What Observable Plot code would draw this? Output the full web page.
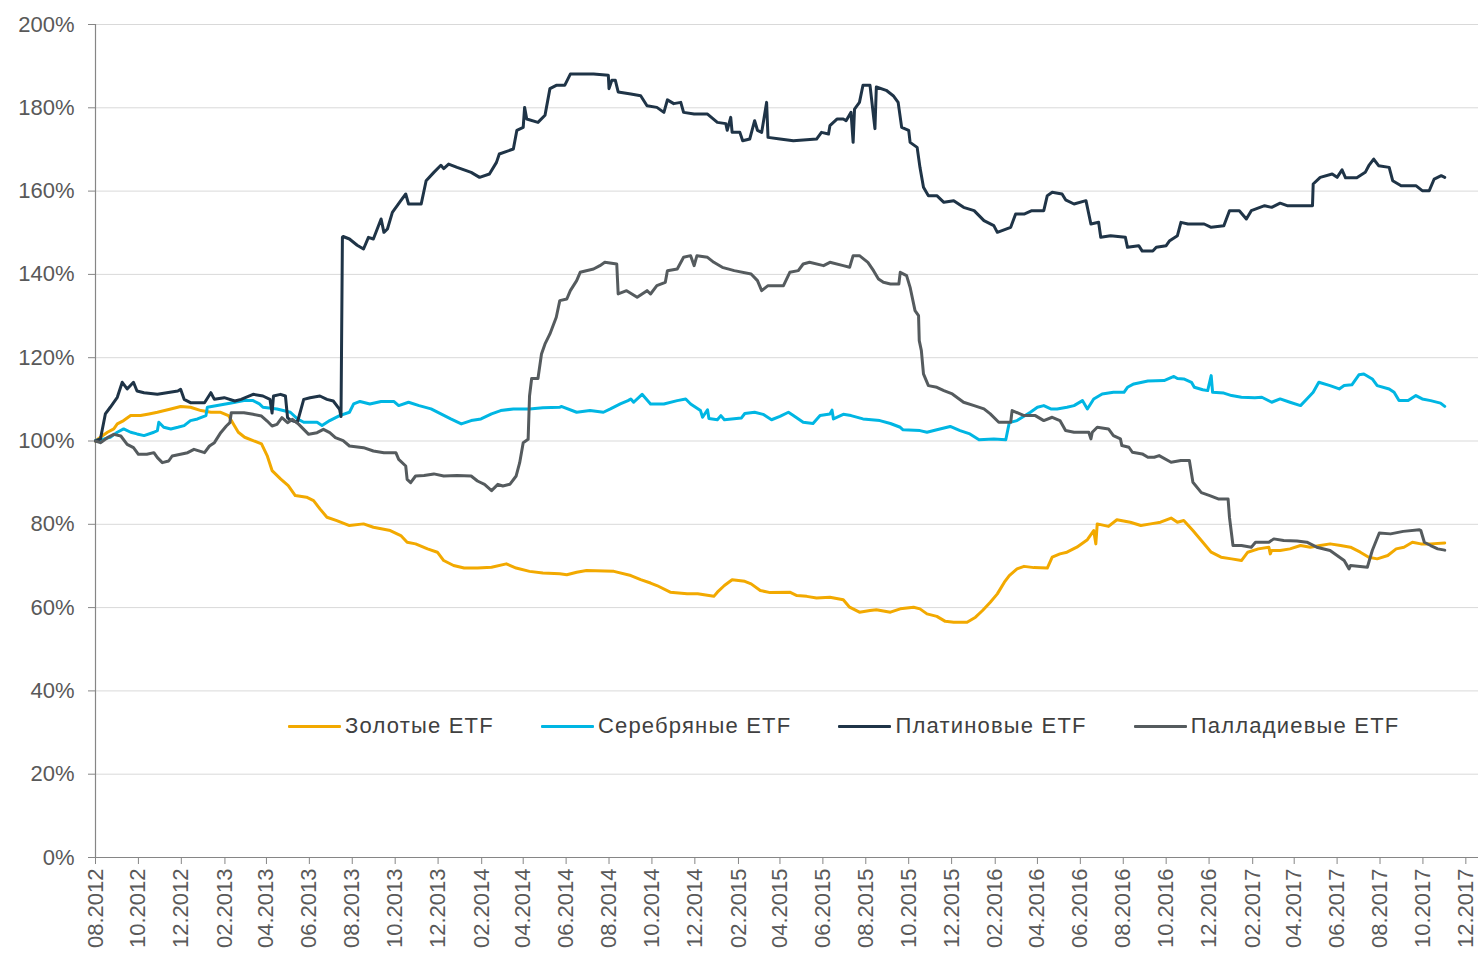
<!DOCTYPE html>
<html>
<head>
<meta charset="utf-8">
<script src="https://cdn.jsdelivr.net/npm/d3@7"></script>
<script src="https://cdn.jsdelivr.net/npm/@observablehq/plot@0.6"></script>
<style>
  html, body { margin: 0; padding: 0; background: #fff; }
  #wrap { position: relative; width: 1479px; height: 961px; font-family: "Liberation Sans", Arial, sans-serif; }
  #legend { position: absolute; top: 713px; left: 288px; display: flex; gap: 47px; align-items: center; font-size: 22px; color: #404040; letter-spacing: 1.2px; }
  #legend .item { display: flex; align-items: center; }
  #legend .sw { display: inline-block; width: 53px; height: 3px; margin-right: 4px; border-radius: 1px; }
</style>
</head>
<body>
<div id="wrap"></div>
<script>
// ---- Data (dates, % of initial value) ----
const seriesNames = ["Золотые ETF", "Серебряные ETF", "Платиновые ETF", "Палладиевые ETF"];
const seriesColors = ["#f2a900", "#00b6e3", "#1f3447", "#555b5e"];

const tickLabels = ["08.2012","10.2012","12.2012","02.2013","04.2013","06.2013","08.2013","10.2013","12.2013",
  "02.2014","04.2014","06.2014","08.2014","10.2014","12.2014","02.2015","04.2015","06.2015","08.2015","10.2015",
  "12.2015","02.2016","04.2016","06.2016","08.2016","10.2016","12.2016","02.2017","04.2017","06.2017","08.2017",
  "10.2017","12.2017"];
const yTicks = [0, 20, 40, 60, 80, 100, 120, 140, 160, 180, 200];

const gold = [
["2012-08-01",100],["2012-08-08",100.9],["2012-08-18",102.1],["2012-08-27",102.9],["2012-09-01",104.1],["2012-09-10",104.9],
["2012-09-20",106.1],["2012-10-04",106.1],["2012-10-16",106.5],["2012-10-28",106.9],["2012-11-16",107.7],["2012-11-30",108.3],
["2012-12-14",108.1],["2012-12-29",107.3],["2013-01-12",106.9],["2013-01-26",106.9],["2013-02-06",106.1],["2013-02-13",104.1],
["2013-02-20",102.1],["2013-03-01",100.9],["2013-03-13",100.1],["2013-03-25",99.3],["2013-04-02",96.5],["2013-04-09",92.9],
["2013-04-21",90.9],["2013-05-02",89.3],["2013-05-12",86.9],["2013-05-28",86.5],["2013-06-07",85.7],["2013-06-16",83.7],
["2013-06-26",81.7],["2013-07-10",80.9],["2013-07-28",79.7],["2013-08-17",80.1],["2013-08-31",79.3],["2013-09-24",78.5],
["2013-10-09",77.3],["2013-10-18",75.7],["2013-10-30",75.3],["2013-11-16",74.1],["2013-11-30",73.3],["2013-12-09",71.3],
["2013-12-23",70.1],["2014-01-07",69.5],["2014-01-26",69.5],["2014-02-15",69.7],["2014-03-08",70.5],["2014-03-22",69.5],
["2014-04-10",68.7],["2014-04-29",68.3],["2014-05-23",68.1],["2014-06-02",67.9],["2014-06-16",68.5],["2014-06-30",68.9],
["2014-08-08",68.7],["2014-09-01",67.7],["2014-09-15",66.7],["2014-09-29",65.9],["2014-10-08",65.3],["2014-10-27",63.7],
["2014-11-20",63.3],["2014-12-05",63.3],["2014-12-28",62.7],["2015-01-02",63.7],["2015-01-12",65.3],["2015-01-23",66.7],
["2015-02-10",66.3],["2015-02-19",65.7],["2015-03-04",64.1],["2015-03-18",63.6],["2015-04-15",63.7],["2015-04-25",62.9],
["2015-05-09",62.7],["2015-05-23",62.3],["2015-06-11",62.5],["2015-06-30",61.9],["2015-07-09",60.1],["2015-07-23",58.9],
["2015-08-07",59.3],["2015-08-16",59.5],["2015-09-05",58.9],["2015-09-19",59.7],["2015-10-08",60.1],["2015-10-17",59.7],
["2015-10-27",58.5],["2015-11-10",57.9],["2015-11-22",56.7],["2015-12-04",56.5],["2015-12-23",56.5],["2016-01-04",57.7],
["2016-01-14",59.3],["2016-01-25",61.3],["2016-02-04",63.3],["2016-02-14",66.1],["2016-02-21",67.7],["2016-03-03",69.3],
["2016-03-13",69.9],["2016-03-27",69.6],["2016-04-15",69.5],["2016-04-22",72.1],["2016-05-03",72.9],["2016-05-13",73.3],
["2016-05-27",74.5],["2016-06-11",76.3],["2016-06-20",78.5],["2016-06-23",75.3],["2016-06-25",80.1],["2016-07-11",79.5],
["2016-07-23",81.1],["2016-08-11",80.5],["2016-08-26",79.7],["2016-09-09",80.1],["2016-09-23",80.5],["2016-10-08",81.5],
["2016-10-17",80.5],["2016-10-26",80.9],["2016-11-08",78.5],["2016-11-20",76.1],["2016-12-04",73.3],["2016-12-18",72.1],
["2017-01-02",71.7],["2017-01-16",71.3],["2017-01-25",73.3],["2017-02-09",74.1],["2017-02-24",74.5],["2017-02-26",72.9],
["2017-02-28",73.7],["2017-03-12",73.7],["2017-03-26",74.1],["2017-04-10",74.9],["2017-04-24",74.5],["2017-05-08",74.9],
["2017-05-22",75.3],["2017-06-06",74.9],["2017-06-20",74.5],["2017-07-04",73.3],["2017-07-16",72.1],["2017-07-28",71.7],
["2017-08-12",72.5],["2017-08-24",74.1],["2017-09-04",74.5],["2017-09-16",75.7],["2017-09-28",75.3],["2017-10-12",75.3],
["2017-11-01",75.5]
];

const silver = [
["2012-08-01",100.1],["2012-08-13",100.5],["2012-08-22",100.9],["2012-09-01",102.1],["2012-09-10",102.9],["2012-09-20",102.1],
["2012-09-29",101.7],["2012-10-09",101.3],["2012-10-23",102.1],["2012-10-28",102.5],["2012-10-30",104.5],["2012-11-06",103.3],
["2012-11-16",102.9],["2012-11-26",103.3],["2012-12-05",103.7],["2012-12-14",104.9],["2012-12-24",105.3],["2013-01-05",106.1],
["2013-01-07",108.1],["2013-01-21",108.5],["2013-02-10",109.1],["2013-02-28",109.7],["2013-03-13",109.7],["2013-03-22",108.9],
["2013-03-27",108.1],["2013-04-16",107.7],["2013-05-05",106.9],["2013-05-15",105.3],["2013-05-24",104.5],["2013-06-12",104.5],
["2013-06-19",103.7],["2013-06-30",104.9],["2013-07-14",106.1],["2013-07-28",106.9],["2013-08-03",108.9],["2013-08-12",109.5],
["2013-08-26",108.9],["2013-09-11",109.5],["2013-09-29",109.5],["2013-10-06",108.5],["2013-10-20",109.3],["2013-11-04",108.5],
["2013-11-21",107.7],["2013-12-05",106.5],["2013-12-19",105.3],["2014-01-03",104.1],["2014-01-17",104.9],["2014-01-31",105.3],
["2014-02-15",106.5],["2014-02-28",107.3],["2014-03-18",107.7],["2014-04-10",107.7],["2014-04-29",108],["2014-05-23",108.1],
["2014-05-25",108.3],["2014-06-16",106.9],["2014-07-05",107.3],["2014-07-24",106.9],["2014-08-03",107.7],["2014-08-17",108.9],
["2014-08-28",109.7],["2014-09-01",110.1],["2014-09-05",109.3],["2014-09-17",111.2],["2014-09-29",108.9],["2014-10-18",108.9],
["2014-11-06",109.7],["2014-11-18",110.1],["2014-11-25",108.9],["2014-12-09",107.3],["2014-12-12",105.7],["2014-12-19",107.5],
["2014-12-21",105.4],["2015-01-02",105.1],["2015-01-07",106.1],["2015-01-12",105.1],["2015-02-05",105.5],["2015-02-10",106.6],
["2015-02-24",106.9],["2015-03-08",106.4],["2015-03-20",105.1],["2015-04-01",105.9],["2015-04-13",106.9],["2015-04-20",106.1],
["2015-05-04",104.5],["2015-05-18",104.2],["2015-05-28",106.1],["2015-06-11",106.5],["2015-06-14",107.4],["2015-06-16",105.3],
["2015-06-30",106.4],["2015-07-11",106.1],["2015-07-28",105.3],["2015-08-21",104.9],["2015-09-05",104.2],["2015-09-19",103.3],
["2015-09-23",102.7],["2015-10-17",102.5],["2015-10-27",102.1],["2015-11-10",102.7],["2015-11-29",103.5],["2015-12-13",102.5],
["2015-12-27",101.7],["2016-01-09",100.3],["2016-01-30",100.5],["2016-02-16",100.3],["2016-02-21",104.4],["2016-03-03",104.9],
["2016-03-22",106.9],["2016-04-01",108.1],["2016-04-10",108.5],["2016-04-20",107.7],["2016-04-29",107.7],["2016-05-13",108.1],
["2016-05-23",108.5],["2016-06-04",109.7],["2016-06-11",107.7],["2016-06-20",110.1],["2016-07-02",111.3],["2016-07-18",111.7],
["2016-08-02",111.7],["2016-08-07",112.9],["2016-08-16",113.7],["2016-09-05",114.4],["2016-09-28",114.5],["2016-10-12",115.5],
["2016-10-17",115],["2016-10-26",114.9],["2016-11-06",114.1],["2016-11-10",112.9],["2016-11-22",112.3],["2016-11-29",112.1],
["2016-12-04",115.7],["2016-12-06",111.7],["2016-12-22",111.5],["2017-01-02",110.9],["2017-01-16",110.5],["2017-02-04",110.4],
["2017-02-14",110.5],["2017-02-28",109.3],["2017-03-12",110.1],["2017-03-26",109.3],["2017-04-10",108.5],["2017-04-19",110.1],
["2017-04-28",111.7],["2017-05-06",114.1],["2017-05-22",113.3],["2017-06-04",112.5],["2017-06-11",113.3],["2017-06-22",113.5],
["2017-07-02",115.9],["2017-07-09",116.1],["2017-07-21",114.9],["2017-07-28",113.3],["2017-08-14",112.5],["2017-08-21",111.7],
["2017-08-28",109.7],["2017-09-10",109.7],["2017-09-21",110.9],["2017-09-30",110.1],["2017-10-12",109.7],["2017-10-26",109.1],
["2017-11-01",108.3]
];

const platinum = [
["2012-08-01",100],["2012-08-08",100.5],["2012-08-15",106.5],["2012-08-22",108.1],["2012-09-01",110.5],["2012-09-08",114.1],
["2012-09-15",112.5],["2012-09-24",114.1],["2012-09-29",112],["2012-10-09",111.6],["2012-10-28",111.2],["2012-11-26",112],
["2012-11-30",112.4],["2012-12-05",110],["2012-12-14",109.2],["2013-01-03",109.2],["2013-01-12",111.6],["2013-01-17",110],
["2013-01-31",110.4],["2013-02-15",109.6],["2013-02-24",110],["2013-03-13",111.2],["2013-03-27",110.8],["2013-04-06",110],
["2013-04-09",106.7],["2013-04-11",110.8],["2013-04-21",111.2],["2013-04-28",110.8],["2013-05-01",105.6],["2013-05-05",105],
["2013-05-15",104.5],["2013-05-24",110],["2013-06-02",110.4],["2013-06-16",110.8],["2013-06-26",110],["2013-07-05",109.6],
["2013-07-14",107.6],["2013-07-16",105.9],["2013-07-18",148.9],["2013-07-19",149.1],["2013-07-28",148.5],["2013-08-08",147],
["2013-08-17",146.1],["2013-08-24",148.9],["2013-08-31",148.5],["2013-09-11",153.3],["2013-09-15",150.1],["2013-09-20",150.9],
["2013-09-27",154.9],["2013-10-09",157.7],["2013-10-16",159.3],["2013-10-20",156.9],["2013-11-07",156.9],["2013-11-14",162.5],
["2013-11-25",164.5],["2013-12-05",166.2],["2013-12-09",165.4],["2013-12-16",166.5],["2013-12-28",165.7],["2014-01-17",164.5],
["2014-01-29",163.3],["2014-02-12",164.1],["2014-02-22",166.9],["2014-02-26",168.9],["2014-03-18",170.1],["2014-03-23",174.6],
["2014-04-01",175.3],["2014-04-03",180.1],["2014-04-06",177.3],["2014-04-22",176.5],["2014-05-02",178.2],["2014-05-09",184.6],
["2014-05-18",185.4],["2014-05-30",185.4],["2014-06-07",188.1],["2014-07-10",188.1],["2014-07-31",187.8],["2014-08-01",184.6],
["2014-08-05",186.6],["2014-08-10",186.6],["2014-08-14",183.8],["2014-09-01",183.3],["2014-09-15",182.9],["2014-09-24",180.5],
["2014-10-08",180.1],["2014-10-18",178.9],["2014-10-23",181.9],["2014-11-01",181],["2014-11-11",181.3],["2014-11-15",178.9],
["2014-11-30",178.5],["2014-12-19",178.5],["2015-01-02",176.5],["2015-01-14",176.2],["2015-01-16",174.6],["2015-01-21",177.7],
["2015-01-23",174.1],["2015-02-03",174.1],["2015-02-07",172.1],["2015-02-17",172.5],["2015-02-24",176.9],["2015-02-28",174.6],
["2015-03-06",174.1],["2015-03-13",181.3],["2015-03-15",172.9],["2015-04-01",172.5],["2015-04-20",172.1],["2015-05-23",172.5],
["2015-05-30",174.1],["2015-06-09",173.7],["2015-06-11",175.7],["2015-06-21",177.3],["2015-06-30",177.3],["2015-07-04",176.9],
["2015-07-11",178.9],["2015-07-14",171.7],["2015-07-16",179.7],["2015-07-23",181.3],["2015-07-28",185.4],["2015-08-07",185.4],
["2015-08-14",175],["2015-08-16",185],["2015-08-30",184.2],["2015-09-09",182.9],["2015-09-16",181.3],["2015-09-21",175.3],
["2015-10-01",174.6],["2015-10-03",171.7],["2015-10-13",170.5],["2015-10-17",165.7],["2015-10-22",160.9],["2015-10-29",158.9],
["2015-11-10",158.9],["2015-11-20",157.3],["2015-12-04",157.7],["2015-12-18",156.1],["2016-01-02",155.3],["2016-01-16",152.9],
["2016-01-30",151.7],["2016-02-04",150.1],["2016-02-23",151.3],["2016-03-01",154.5],["2016-03-13",154.5],["2016-03-24",155.3],
["2016-04-10",155.3],["2016-04-15",158.9],["2016-04-22",159.7],["2016-05-06",159.3],["2016-05-11",157.9],["2016-05-23",156.9],
["2016-06-09",157.7],["2016-06-16",152.1],["2016-06-27",152.5],["2016-06-30",148.9],["2016-07-14",149.3],["2016-08-04",148.9],
["2016-08-07",146.5],["2016-08-23",146.9],["2016-08-28",145.6],["2016-09-12",145.6],["2016-09-17",146.5],["2016-10-01",146.9],
["2016-10-06",148.1],["2016-10-17",149.3],["2016-10-22",152.5],["2016-11-01",152.1],["2016-11-24",152.1],["2016-12-04",151.3],
["2016-12-22",151.7],["2016-12-30",155.3],["2017-01-13",155.3],["2017-01-23",153.3],["2017-01-30",155.3],["2017-02-18",156.5],
["2017-02-28",156.1],["2017-03-12",157.1],["2017-03-22",156.5],["2017-04-05",156.5],["2017-04-27",156.5],["2017-04-28",161.7],
["2017-05-08",163.3],["2017-05-25",164.1],["2017-06-01",163.3],["2017-06-08",165.1],["2017-06-13",163.2],["2017-06-29",163.2],
["2017-07-11",164.5],["2017-07-16",166.1],["2017-07-23",167.7],["2017-07-30",166.1],["2017-08-14",165.7],["2017-08-19",162.5],
["2017-08-31",161.3],["2017-09-21",161.3],["2017-09-30",160.1],["2017-10-10",160.1],["2017-10-17",162.9],["2017-10-27",163.7],
["2017-11-01",163.3]
];

const palladium = [
["2012-08-01",100],["2012-08-08",99.6],["2012-08-18",100.8],["2012-08-27",101.6],["2012-09-06",101.2],["2012-09-15",99.2],
["2012-09-24",98.4],["2012-10-01",96.8],["2012-10-13",96.8],["2012-10-23",97.2],["2012-10-28",96],["2012-11-04",94.8],
["2012-11-13",95.2],["2012-11-18",96.4],["2012-12-10",97.2],["2012-12-19",98],["2013-01-03",97.2],["2013-01-10",98.8],
["2013-01-17",99.6],["2013-01-26",102],["2013-02-03",103.6],["2013-02-08",104.4],["2013-02-10",106.8],["2013-02-28",106.8],
["2013-03-13",106.4],["2013-03-25",106],["2013-04-02",104.8],["2013-04-09",103.6],["2013-04-16",104],["2013-04-23",105.6],
["2013-05-01",104.4],["2013-05-08",105.2],["2013-05-17",104],["2013-05-24",102.8],["2013-05-31",101.6],["2013-06-12",102],
["2013-06-21",102.8],["2013-06-30",102],["2013-07-08",100.8],["2013-07-19",100.1],["2013-07-28",98.8],["2013-08-17",98.4],
["2013-08-31",97.6],["2013-09-15",97.2],["2013-10-02",97.2],["2013-10-06",95.6],["2013-10-16",94],["2013-10-18",90.8],
["2013-10-23",90],["2013-10-30",91.6],["2013-11-11",91.7],["2013-11-25",92.1],["2013-12-09",91.6],["2013-12-28",91.7],
["2014-01-17",91.6],["2014-01-26",90.4],["2014-02-05",89.6],["2014-02-15",88.1],["2014-02-24",89.6],["2014-03-03",89.2],
["2014-03-13",89.6],["2014-03-22",91.6],["2014-03-27",94.8],["2014-04-01",99.6],["2014-04-08",100.4],["2014-04-10",110.8],
["2014-04-13",115],["2014-04-22",115],["2014-04-27",120.9],["2014-05-02",123.3],["2014-05-09",125.7],["2014-05-18",129.7],
["2014-05-23",133.7],["2014-06-02",134.1],["2014-06-07",136.1],["2014-06-16",138.5],["2014-06-21",140.5],["2014-07-10",141.3],
["2014-07-19",142.1],["2014-07-26",142.9],["2014-08-12",142.5],["2014-08-14",135.3],["2014-08-26",136.1],["2014-09-10",134.5],
["2014-09-24",136.1],["2014-09-29",135.3],["2014-10-08",137.3],["2014-10-20",138.1],["2014-10-23",140.9],["2014-11-06",141.3],
["2014-11-15",144.1],["2014-11-25",144.5],["2014-11-30",142.1],["2014-12-04",144.5],["2014-12-19",144.1],["2014-12-28",142.9],
["2015-01-09",141.7],["2015-01-26",140.9],["2015-02-19",140.1],["2015-02-28",138.5],["2015-03-06",136.1],["2015-03-15",137.3],
["2015-04-06",137.3],["2015-04-15",140.5],["2015-04-27",140.9],["2015-05-04",142.5],["2015-05-13",142.9],["2015-06-02",142.1],
["2015-06-11",142.9],["2015-06-30",142.1],["2015-07-09",141.7],["2015-07-14",144.5],["2015-07-23",144.5],["2015-08-04",142.9],
["2015-08-12",140.9],["2015-08-19",138.9],["2015-08-26",138.1],["2015-09-05",137.7],["2015-09-17",137.7],["2015-09-19",140.5],
["2015-09-28",139.7],["2015-10-03",136.9],["2015-10-10",131.3],["2015-10-15",130.1],["2015-10-16",124.1],["2015-10-19",121.7],
["2015-10-22",116.1],["2015-10-29",113.3],["2015-11-10",112.9],["2015-11-20",112.1],["2015-12-02",111.3],["2015-12-18",109.3],
["2016-01-02",108.5],["2016-01-16",107.7],["2016-01-25",106.5],["2016-02-06",104.5],["2016-02-23",104.5],["2016-02-25",107.3],
["2016-03-13",106.1],["2016-03-29",106.1],["2016-04-10",104.9],["2016-04-22",105.7],["2016-05-03",104.9],["2016-05-11",102.5],
["2016-05-23",102.1],["2016-06-13",102.1],["2016-06-16",100.5],["2016-06-18",102.1],["2016-06-25",103.3],["2016-07-11",102.9],
["2016-07-18",101.3],["2016-07-28",100.5],["2016-07-30",98.9],["2016-08-09",98.5],["2016-08-14",97.3],["2016-08-28",96.9],
["2016-09-05",96.1],["2016-09-14",96.1],["2016-09-21",96.5],["2016-10-08",94.9],["2016-10-22",95.3],["2016-11-03",95.3],
["2016-11-08",90.1],["2016-11-20",87.6],["2016-12-02",86.9],["2016-12-14",86.1],["2016-12-28",86.1],["2016-12-30",81.7],
["2017-01-04",74.9],["2017-01-16",74.9],["2017-01-30",74.5],["2017-02-05",75.7],["2017-02-24",75.7],["2017-03-03",76.5],
["2017-03-17",76.1],["2017-04-05",76],["2017-04-19",75.7],["2017-05-03",74.5],["2017-05-22",73.7],["2017-06-01",72.5],
["2017-06-11",71.3],["2017-06-18",69.3],["2017-06-20",70.1],["2017-07-14",69.7],["2017-07-21",73.7],["2017-07-31",77.9],
["2017-08-16",77.7],["2017-09-03",78.3],["2017-09-26",78.7],["2017-09-28",78.5],["2017-10-03",75.7],["2017-10-12",74.9],
["2017-10-22",74.1],["2017-11-01",73.8]
];

// ---- Build table ----
const seriesData = [gold, silver, platinum, palladium];
const rows = [];
seriesData.forEach((arr, i) => {
  arr.forEach(([d, v]) => rows.push({series: seriesNames[i], date: new Date(d + "T00:00:00Z"), value: v}));
});
const parseTick = s => { const [m, y] = s.split("."); return new Date(Date.UTC(+y, +m - 1, 1)); };
const tickDates = tickLabels.map(parseTick);
const xStart = new Date("2012-08-01T00:00:00Z");
const xEnd = new Date("2017-12-19T00:00:00Z");

const axisColor = "#868686";
const textColor = "#595959";

const chart = Plot.plot({
  width: 1479,
  height: 961,
  marginLeft: 95,
  marginRight: 1,
  marginTop: 24,
  marginBottom: 104,
  style: {fontFamily: "'Liberation Sans', Arial, sans-serif", fontSize: "22px", color: textColor, background: "#fff"},
  x: {type: "utc", domain: [xStart, xEnd]},
  y: {domain: [0, 200]},
  color: {domain: seriesNames, range: seriesColors},
  marks: [
    Plot.gridY(yTicks.filter(d => d > 0), {stroke: "#d9d9d9", strokeOpacity: 1, strokeWidth: 1}),
    Plot.axisY(yTicks, {tickFormat: d => d + "%", tickSize: 7, tickPadding: 14, stroke: axisColor, fill: textColor, label: null, style: "letter-spacing:1px"}),
    Plot.axisX(tickDates, {tickFormat: (d, i) => tickLabels[i], tickRotate: -90, tickSize: 7, tickPadding: 4, stroke: axisColor, fill: textColor, label: null, style: "letter-spacing:1.6px"}),
    Plot.ruleX([xStart], {stroke: axisColor, strokeWidth: 1.2}),
    Plot.ruleY([0], {stroke: axisColor, strokeWidth: 1.2}),
    Plot.line(rows, {x: "date", y: "value", z: "series", stroke: "series", strokeWidth: 3, strokeLinejoin: "round", strokeLinecap: "round", curve: "linear"})
  ]
});

const wrap = document.getElementById("wrap");
wrap.appendChild(chart);

const legend = document.createElement("div");
legend.id = "legend";
seriesNames.forEach((name, i) => {
  const item = document.createElement("div");
  item.className = "item";
  const sw = document.createElement("span");
  sw.className = "sw";
  sw.style.background = seriesColors[i];
  const t = document.createElement("span");
  t.textContent = name;
  item.appendChild(sw);
  item.appendChild(t);
  legend.appendChild(item);
});
wrap.appendChild(legend);
</script>
</body>
</html>
